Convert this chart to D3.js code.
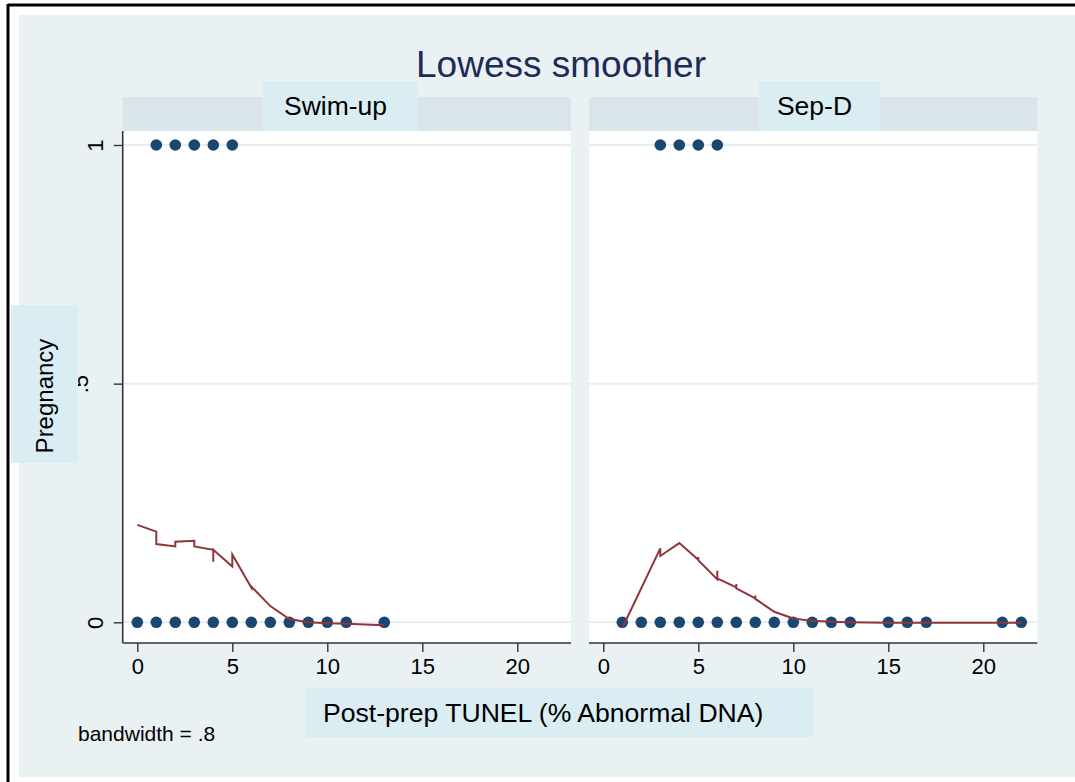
<!DOCTYPE html>
<html><head><meta charset="utf-8">
<script src="https://cdn.jsdelivr.net/npm/d3@7"></script>
<style>html,body{margin:0;padding:0;background:#fff;}svg{display:block;}</style>
</head><body>
<svg id="chart" width="1075" height="782"></svg>
<script>
// ---------- data ----------
const panels = ["Swim-up", "Sep-D"];
const xTicks = [0, 5, 10, 15, 20];
const yTicks = [0, 0.5, 1];
const yTickLabels = ["0", ".5", "1"];

// observed points (TUNEL %, pregnancy 0/1)
const swimZeroX = [0,1,2,3,4,5,6,7,8,9,10,11,13];
const swimOneX  = [1,2,3,4,5];
const sepZeroX  = [1,2,3,4,5,6,7,8,9,10,11,12,13,15,16,17,21,22];
const sepOneX   = [3,4,5,6];

// lowess fitted values, in sorted observation order (ties give jags)
const swimLowX = [0, 1, 1, 2, 2, 3, 3, 4, 4, 4, 5, 5, 6, 6, 7, 8, 9, 10, 11, 13];
const swimLowY = [0.204,0.190,0.164,0.159,0.169,0.171,0.159,0.152,0.127,0.152,0.117,0.142,0.073,0.075,0.034,0.007,0.0,-0.002,-0.003,-0.006];
const sepLowX = [1, 3, 3, 4, 5, 5, 5, 6, 6, 6, 7, 7, 7, 8, 8, 8, 9, 10, 11, 12, 13, 15, 16, 17, 21, 22];
const sepLowY = [-0.012,0.155,0.139,0.166,0.131,0.137,0.130,0.090,0.108,0.092,0.073,0.080,0.071,0.050,0.056,0.049,0.022,0.008,0.003,0.001,0.0,-0.001,-0.001,-0.001,-0.001,-0.001];

const titleText = "Lowess smoother";
const xTitle = "Post-prep TUNEL (% Abnormal DNA)";
const yTitle = "Pregnancy";
const noteText = "bandwidth = .8";

// ---------- drawing ----------
const svg = d3.select("#chart");
const FONT = "'Liberation Sans', Arial, Helvetica, sans-serif";
const BG = "#eaf1f3", STRIP = "#d9e5eb", LABELBOX = "#daedf3";
const NAVY = "#1a476f", MAROON = "#90353b";

// outer frame
svg.append("rect").attr("x",0).attr("y",0).attr("width",1075).attr("height",782).attr("fill","#fff");
svg.append("rect").attr("x",19).attr("y",15).attr("width",1056).attr("height",762).attr("fill",BG);
svg.append("line").attr("x1",8).attr("x2",1075).attr("y1",5).attr("y2",5).attr("stroke","#000").attr("stroke-width",3);
svg.append("line").attr("x1",8).attr("x2",8).attr("y1",4).attr("y2",782).attr("stroke","#000").attr("stroke-width",3);

const y = d3.scaleLinear().domain([0,1]).range([622.3,145]);
const plotTop = 131, plotBot = 643, stripTop = 97;
const panelLeft = [122.7, 589], panelW = 448.3;
const xs = [
  d3.scaleLinear().domain([0,20]).range([137.3,517.3]),
  d3.scaleLinear().domain([0,20]).range([603.3,983.3])
];
const zeros = [swimZeroX, sepZeroX], ones = [swimOneX, sepOneX];
const lows = [d3.zip(swimLowX, swimLowY), d3.zip(sepLowX, sepLowY)];
const labelBoxes = [[263,418],[759,880]];

panels.forEach((name,i)=>{
  const x = xs[i], L = panelLeft[i];
  const g = svg.append("g");
  // strip
  g.append("rect").attr("x",L).attr("y",stripTop).attr("width",panelW).attr("height",plotTop-stripTop).attr("fill",STRIP);
  g.append("rect").attr("x",labelBoxes[i][0]).attr("y",81).attr("width",labelBoxes[i][1]-labelBoxes[i][0]).attr("height",plotTop-81).attr("fill",LABELBOX);
  g.append("text").attr("x",(labelBoxes[i][0]+labelBoxes[i][1])/2 - 5).attr("y",114.5)
    .attr("text-anchor","middle").attr("font-family",FONT).attr("font-size",26.5).attr("fill","#000").text(name);
  // plot region
  g.append("rect").attr("x",L).attr("y",plotTop).attr("width",panelW).attr("height",plotBot-plotTop).attr("fill","#fff");
  // grid
  g.selectAll(".grid").data(yTicks).enter().append("line")
    .attr("x1",L).attr("x2",L+panelW).attr("y1",d=>y(d)).attr("y2",d=>y(d))
    .attr("stroke","#e6eef1").attr("stroke-width",2);
  // x axis
  const ax = d3.axisBottom(x).tickValues(xTicks).tickSize(9).tickPadding(6).tickFormat(d3.format("d"));
  const axg = g.append("g").attr("transform",`translate(0,${plotBot})`).call(ax);
  axg.select(".domain").remove();
  axg.append("line").attr("x1",L).attr("x2",L+panelW).attr("y1",0).attr("y2",0).attr("stroke","#333").attr("stroke-width",1.6);
  axg.selectAll(".tick line").attr("stroke","#333").attr("stroke-width",1.4);
  axg.selectAll(".tick text").attr("font-family",FONT).attr("font-size",22).attr("fill","#000").attr("dy","0.71em");
  // points
  const pts = zeros[i].map(v=>[v,0]).concat(ones[i].map(v=>[v,1]));
  g.selectAll(".pt").data(pts).enter().append("circle")
    .attr("cx",d=>x(d[0])).attr("cy",d=>y(d[1])).attr("r",5.8).attr("fill",NAVY);
  // lowess line
  g.append("path").datum(lows[i])
    .attr("d", d3.line().x(d=>x(d[0])).y(d=>y(d[1])))
    .attr("fill","none").attr("stroke",MAROON).attr("stroke-width",2).attr("stroke-linejoin","miter");
});

// y axis (left panel only)
const ay = d3.axisLeft(y).tickValues(yTicks).tickSize(9).tickFormat((d,i)=>yTickLabels[i]);
const ayg = svg.append("g").attr("transform",`translate(${panelLeft[0]},0)`).call(ay);
ayg.select(".domain").remove();
ayg.append("line").attr("x1",0).attr("x2",0).attr("y1",plotTop).attr("y2",plotBot).attr("stroke","#333").attr("stroke-width",1.6);
ayg.selectAll(".tick line").attr("stroke","#333").attr("stroke-width",1.4);
ayg.selectAll(".tick text").attr("font-family",FONT).attr("font-size",22).attr("fill","#000")
  .attr("x",0).attr("dy",0).attr("text-anchor","middle")
  .attr("transform",d=> d===0.5 ? "translate(-35,0) rotate(-90)" : "translate(-20,0) rotate(-90)");

// y title (box drawn over the .5 label, as in the reference)
svg.append("rect").attr("x",11).attr("y",305).attr("width",67).attr("height",158).attr("fill",LABELBOX);
svg.append("text").attr("transform","translate(53,396) rotate(-90)").attr("text-anchor","middle")
  .attr("font-family",FONT).attr("font-size",24).attr("fill","#000").text(yTitle);

// x title
svg.append("rect").attr("x",305).attr("y",688).attr("width",508).attr("height",49).attr("fill",LABELBOX);
svg.append("text").attr("x",323).attr("y",722).attr("text-anchor","start")
  .attr("font-family",FONT).attr("font-size",26.6).attr("fill","#000").text(xTitle);

// title
svg.append("text").attr("x",561).attr("y",76.7).attr("text-anchor","middle")
  .attr("font-family",FONT).attr("font-size",37).attr("fill","#1d2b57").text(titleText);

// note
svg.append("text").attr("x",78).attr("y",741).attr("font-family",FONT).attr("font-size",21).attr("fill","#000").text(noteText);
</script>
</body></html>
